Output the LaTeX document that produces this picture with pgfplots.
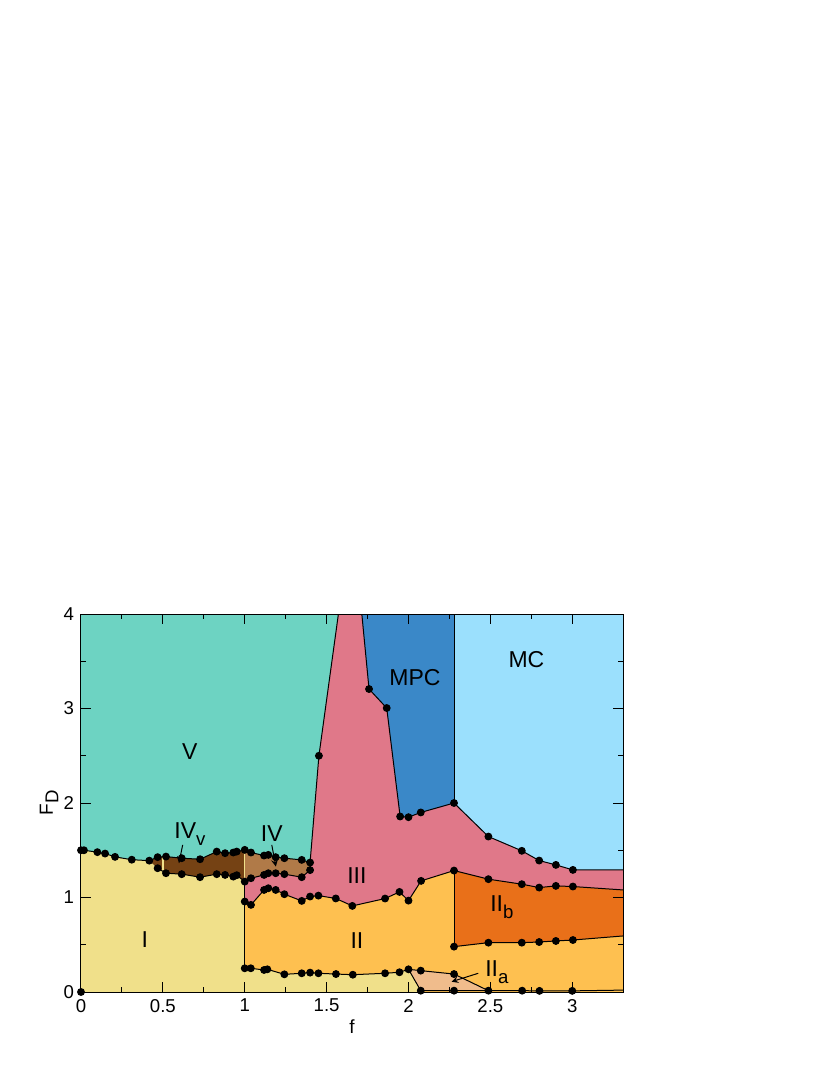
\documentclass[border=0pt]{standalone}
\usepackage{fontspec}
\setmainfont{Liberation Sans}
\usepackage{pgfplots}
\pgfplotsset{compat=1.18}
\definecolor{regV}{RGB}{109,211,194}
\definecolor{regIII}{RGB}{224,120,137}
\definecolor{regMPC}{RGB}{58,136,200}
\definecolor{regMC}{RGB}{155,224,253}
\definecolor{regI}{RGB}{240,224,138}
\definecolor{regII}{RGB}{254,192,80}
\definecolor{regIIb}{RGB}{233,112,25}
\definecolor{regIIa}{RGB}{240,188,140}
\definecolor{regIVv}{RGB}{117,66,20}
\definecolor{regIV}{RGB}{176,122,72}

\begin{document}
\begin{tikzpicture}
\path[use as bounding box] (-40.5pt,-41.5pt) rectangle (374.5pt,496pt);
\begin{axis}[
    at={(0,0)}, anchor=south west,
    scale only axis, width=271pt, height=189pt,
    xmin=0, xmax=3.31, ymin=0, ymax=4,
    xtick={0,0.5,1,1.5,2,2.5,3},
    xticklabels={0,0.5,1,1.5,2,2.5,3},
    ytick={0,1,2,3,4},
    minor x tick num=1, minor y tick num=1,
    tick align=inside,
    major tick length=5pt, minor tick length=2.5pt,
    axis on top,
    axis line style={line width=0.5pt},
    every tick/.style={black, line width=0.5pt},
    tick label style={font=\fontsize{9.3}{11}\selectfont},
    /pgf/number format/assume math mode=true,
    xlabel={f},
    ylabel={F\raisebox{-0.55ex}{\fontsize{9.3}{11}\selectfont D}},
    label style={font=\fontsize{9.5}{11}\selectfont},
    xlabel style={at={(axis description cs:0.5,0)}, anchor=center, yshift=-17.3pt},
    ylabel style={at={(axis description cs:0,0.5)}, anchor=center, yshift=16pt},
    clip=true,
]
% --- regions ---
\addplot[fill=regV, draw=none] coordinates {(0,0) (3.31,0) (3.31,4) (0,4)} -- cycle;
\addplot[fill=regIII, draw=none] coordinates {
  (1.572,4) (1.453,2.5) (1.399,1.37) (1.0,1.2) (1.0,0) (3.31,0) (3.31,4)} -- cycle;
\addplot[fill=regMC, draw=none] coordinates {
  (2.278,4) (2.278,2.0) (2.488,1.645) (2.692,1.494) (2.798,1.391) (2.90,1.345)
  (3.004,1.292) (3.31,1.292) (3.31,4)} -- cycle;
\addplot[fill=regMPC, draw=none] coordinates {
  (1.715,4) (1.759,3.206) (1.867,3.005) (1.949,1.857) (2.0,1.85) (2.075,1.90)
  (2.278,2.0) (2.278,4)} -- cycle;
\addplot[fill=regII, draw=none] coordinates {
  (1.0,0.957) (1.038,0.922) (1.118,1.08) (1.144,1.098) (1.189,1.08) (1.242,1.035)
  (1.348,0.964) (1.399,1.01) (1.45,1.02) (1.556,0.99) (1.657,0.911) (1.857,0.989)
  (1.945,1.059) (2.0,0.967) (2.077,1.176) (2.278,1.285) (2.488,1.194) (2.692,1.141)
  (2.798,1.105) (2.90,1.123) (3.004,1.116) (3.31,1.08) (3.31,0) (1.0,0)} -- cycle;
\addplot[fill=regIIb, draw=none] coordinates {
  (2.278,1.285) (2.488,1.194) (2.692,1.141) (2.798,1.105) (2.90,1.123) (3.004,1.116)
  (3.31,1.08) (3.31,0.593) (3.004,0.55) (2.90,0.54) (2.798,0.529) (2.692,0.522)
  (2.488,0.522) (2.278,0.48)} -- cycle;
\addplot[fill=regI, draw=none] coordinates {
  (0,0) (0,1.5) (0.10,1.48) (0.147,1.465) (0.208,1.43) (0.31,1.40) (0.417,1.39)
  (0.468,1.31) (0.519,1.257) (0.615,1.247) (0.727,1.215) (0.829,1.247) (0.88,1.239)
  (0.93,1.221) (0.951,1.236) (1.0,1.168) (1.0,0.251) (1.037,0.251) (1.118,0.233)
  (1.138,0.24) (1.242,0.187) (1.348,0.198) (1.399,0.205) (1.45,0.198) (1.557,0.19)
  (1.66,0.183) (1.857,0.198) (1.945,0.209) (2.0,0.24) (2.075,0.014) (2.075,0)} -- cycle;
\addplot[fill=regIIa, draw=none] coordinates {
  (2.0,0.24) (2.075,0.226) (2.278,0.19) (2.488,0.014) (2.075,0.014)} -- cycle;
\addplot[fill=regIVv, draw=none] coordinates {
  (0.417,1.39) (0.468,1.427) (0.519,1.433) (0.615,1.416) (0.727,1.405) (0.829,1.486)
  (0.88,1.469) (0.93,1.476) (0.951,1.486) (1.0,1.504) (1.0,1.168) (0.951,1.236)
  (0.93,1.221) (0.88,1.239) (0.829,1.247) (0.727,1.215) (0.615,1.247) (0.519,1.257)
  (0.468,1.31)} -- cycle;
\addplot[fill=regIV, draw=none] coordinates {
  (1.0,1.504) (1.038,1.476) (1.118,1.444) (1.144,1.451) (1.189,1.427) (1.242,1.416)
  (1.348,1.398) (1.399,1.37) (1.399,1.29) (1.348,1.215) (1.242,1.247) (1.189,1.257)
  (1.144,1.257) (1.118,1.239) (1.038,1.204) (1.0,1.168)} -- cycle;
% pale seams
\addplot[regI, line width=0.7pt] coordinates {(0.5,1.26) (0.5,1.43)};
\addplot[regI, line width=0.7pt] coordinates {(1.0,1.17) (1.0,1.50)};
% --- boundaries ---
\pgfplotsset{every axis plot/.append style={black, line width=0.5pt}}
\addplot[no marks] coordinates {
  (0,1.5) (0.018,1.5) (0.10,1.48) (0.147,1.465) (0.208,1.43) (0.31,1.40) (0.417,1.39)
  (0.468,1.427) (0.519,1.433) (0.615,1.416) (0.727,1.405) (0.829,1.486) (0.88,1.469)
  (0.93,1.476) (0.951,1.486) (1.0,1.504) (1.038,1.476) (1.118,1.444) (1.144,1.451)
  (1.189,1.427) (1.242,1.416) (1.348,1.398) (1.399,1.37)};
\addplot[no marks] coordinates {
  (0.468,1.31) (0.519,1.257) (0.615,1.247) (0.727,1.215) (0.829,1.247) (0.88,1.239)
  (0.93,1.221) (0.951,1.236) (1.0,1.168) (1.038,1.204) (1.118,1.239) (1.144,1.257)
  (1.189,1.257) (1.242,1.247) (1.348,1.215) (1.399,1.29) (1.399,1.37)};
\addplot[no marks] coordinates {(1.572,4) (1.453,2.5) (1.399,1.37)};
\addplot[no marks] coordinates {
  (1.0,0.957) (1.038,0.922) (1.118,1.08) (1.144,1.098) (1.189,1.08) (1.242,1.035)
  (1.348,0.964) (1.399,1.01) (1.45,1.02) (1.556,0.99) (1.657,0.911) (1.857,0.989)
  (1.945,1.059) (2.0,0.967) (2.077,1.176) (2.278,1.285) (2.488,1.194) (2.692,1.141)
  (2.798,1.105) (2.90,1.123) (3.004,1.116) (3.31,1.08)};
\addplot[no marks] coordinates {
  (1.0,0.251) (1.037,0.251) (1.118,0.233) (1.138,0.24) (1.242,0.187) (1.348,0.198)
  (1.399,0.205) (1.45,0.198) (1.557,0.19) (1.66,0.183) (1.857,0.198) (1.945,0.209)
  (2.0,0.24) (2.075,0.226) (2.278,0.19) (2.488,0.014)};
\addplot[no marks] coordinates {(2.0,0.24) (2.075,0.014)};
\addplot[no marks] coordinates {
  (2.075,0.014) (2.278,0.014) (2.488,0.014) (2.694,0.014) (2.80,0.012) (3.0,0.012) (3.31,0.02)};
\addplot[no marks] coordinates {(1.0,0.251) (1.0,1.168)};
\addplot[no marks] coordinates {(2.278,0.48) (2.278,1.285)};
\addplot[no marks] coordinates {(2.278,2.0) (2.278,4)};
\addplot[no marks] coordinates {
  (2.278,0.48) (2.488,0.522) (2.692,0.522) (2.798,0.529) (2.90,0.54) (3.004,0.55) (3.31,0.593)};
\addplot[no marks] coordinates {
  (2.278,2.0) (2.488,1.645) (2.692,1.494) (2.798,1.391) (2.90,1.345) (3.004,1.292) (3.31,1.292)};
\addplot[no marks] coordinates {
  (1.715,4) (1.759,3.206) (1.867,3.005) (1.949,1.857) (2.0,1.85) (2.075,1.90) (2.278,2.0)};
% --- data points ---
\addplot[only marks, mark=*, mark size=1.7pt, black] coordinates {
  (0,0) (0,1.5) (0.018,1.5) (0.10,1.48) (0.147,1.465) (0.208,1.43) (0.31,1.40) (0.417,1.39)
  (0.468,1.427) (0.519,1.433) (0.615,1.416) (0.727,1.405) (0.829,1.486) (0.88,1.469)
  (0.93,1.476) (0.951,1.486) (1.0,1.504) (1.038,1.476) (1.118,1.444) (1.144,1.451)
  (1.189,1.427) (1.242,1.416) (1.348,1.398) (1.399,1.37)
  (0.468,1.31) (0.519,1.257) (0.615,1.247) (0.727,1.215) (0.829,1.247) (0.88,1.239)
  (0.93,1.221) (0.951,1.236) (1.0,1.168) (1.038,1.204) (1.118,1.239) (1.144,1.257)
  (1.189,1.257) (1.242,1.247) (1.348,1.215) (1.399,1.29)
  (1.453,2.5)
  (1.0,0.957) (1.038,0.922) (1.118,1.08) (1.144,1.098) (1.189,1.08) (1.242,1.035)
  (1.348,0.964) (1.399,1.01) (1.45,1.02) (1.556,0.99) (1.657,0.911) (1.857,0.989)
  (1.945,1.059) (2.0,0.967) (2.077,1.176) (2.278,1.285) (2.488,1.194) (2.692,1.141)
  (2.798,1.105) (2.90,1.123) (3.004,1.116)
  (1.0,0.251) (1.037,0.251) (1.118,0.233) (1.138,0.24) (1.242,0.187) (1.348,0.198)
  (1.399,0.205) (1.45,0.198) (1.557,0.19) (1.66,0.183) (1.857,0.198) (1.945,0.209)
  (2.0,0.24) (2.075,0.226) (2.278,0.19) (2.488,0.014)
  (2.075,0.014) (2.278,0.014) (2.694,0.014) (2.80,0.012) (3.0,0.012)
  (2.278,0.48) (2.488,0.522) (2.692,0.522) (2.798,0.529) (2.90,0.54) (3.004,0.55)
  (2.278,2.0) (2.488,1.645) (2.692,1.494) (2.798,1.391) (2.90,1.345) (3.004,1.292)
  (1.759,3.206) (1.867,3.005) (1.949,1.857) (2.0,1.85) (2.075,1.90)};
% --- labels ---
\begin{scope}[font=\fontsize{11.5}{13}\selectfont]
\node at (axis cs:0.665,2.54) {V};
\node at (axis cs:2.04,3.33) {MPC};
\node at (axis cs:2.72,3.52) {MC};
\node at (axis cs:1.685,1.23) {III};
\node at (axis cs:1.685,0.54) {II};
\node at (axis cs:0.39,0.55) {I};
\node at (axis cs:2.57,0.90) {II\raisebox{-0.55ex}{\fontsize{9.3}{11}\selectfont b}};
\node at (axis cs:2.54,0.21) {II\raisebox{-0.55ex}{\fontsize{9.3}{11}\selectfont a}};
\node at (axis cs:0.665,1.67) {IV\raisebox{-0.55ex}{\fontsize{9.3}{11}\selectfont v}};
\node at (axis cs:1.165,1.68) {IV};
\end{scope}
\draw[-stealth, line width=0.5pt] (axis cs:2.426,0.198) -- (axis cs:2.263,0.109);
\draw[-stealth, line width=0.5pt] (axis cs:0.621,1.557) -- (axis cs:0.598,1.363);
\draw[-stealth, line width=0.5pt] (axis cs:1.165,1.557) -- (axis cs:1.19,1.327);
\end{axis}
\end{tikzpicture}
\end{document}
